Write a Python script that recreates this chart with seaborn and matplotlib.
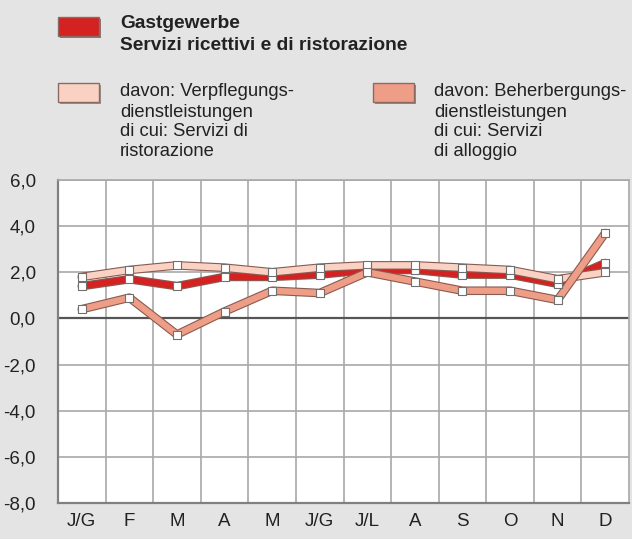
import matplotlib
matplotlib.use("Agg")
import matplotlib.pyplot as plt
import matplotlib.patheffects as pe
from matplotlib.patches import Rectangle
from matplotlib.ticker import FixedLocator
import seaborn as sns
import numpy as np

# data
months = ["J/G", "F", "M", "A", "M", "J/G", "J/L", "A", "S", "O", "N", "D"]
gastgewerbe = [1.4, 1.7, 1.4, 1.8, 1.8, 1.9, 2.1, 2.1, 1.9, 1.9, 1.5, 2.4]
verpflegung = [1.8, 2.1, 2.3, 2.2, 2.0, 2.2, 2.3, 2.3, 2.2, 2.1, 1.7, 2.0]
beherbergung = [0.4, 0.9, -0.7, 0.3, 1.2, 1.1, 2.0, 1.6, 1.2, 1.2, 0.8, 3.7]
yticks = [-8, -6, -4, -2, 0, 2, 4, 6]

col_red = "#d42222"
col_light = "#f9d2c4"
col_salmon = "#ee9d86"
bg = "#e4e4e4"
txt = "#222222"

sns.set_theme(style="white")
plt.rcParams["font.family"] = ["Liberation Sans", "DejaVu Sans"]

W, H = 632, 539
fig = plt.figure(figsize=(W / 100, H / 100), dpi=100, facecolor=bg)
ax = fig.add_axes([58 / W, 1 - 503 / H, (629 - 58) / W, (503 - 180) / H])
ax.set_facecolor("white")

x = np.arange(len(months))
series = [(gastgewerbe, col_red), (verpflegung, col_light), (beherbergung, col_salmon)]
for vals, c in series:
    sns.lineplot(x=x, y=vals, ax=ax, color=c, lw=4.6, sort=False, zorder=3,
                 path_effects=[pe.Stroke(linewidth=6.2, foreground="#8a5a50"), pe.Normal()])
for vals, c in series:
    sns.scatterplot(x=x, y=vals, ax=ax, marker="s", s=34, color="white",
                    edgecolor="#707070", linewidth=0.8, zorder=4)

ax.set_xlim(-0.5, len(months) - 0.5)
ax.set_ylim(-8, 6)
ax.set_xticks(x)
ax.set_xticklabels(months)
ax.set_yticks(yticks)
ax.set_yticklabels([f"{v:.1f}".replace(".", ",") for v in yticks])
ax.xaxis.set_minor_locator(FixedLocator(np.arange(0.5, len(months) - 0.5, 1)))
ax.grid(True, which="minor", axis="x", color="#a8a8a8", lw=1.2)
ax.grid(True, which="major", axis="y", color="#a8a8a8", lw=1.2)
ax.grid(False, which="major", axis="x")
ax.axhline(0, color="#555555", lw=1.6, zorder=2)
ax.set_axisbelow(True)
ax.tick_params(axis="both", which="both", length=0, labelsize=13.5, colors=txt)
ax.tick_params(axis="x", pad=7)
ax.tick_params(axis="y", pad=16)
for s in ["left", "bottom"]:
    ax.spines[s].set_color("#808080")
    ax.spines[s].set_linewidth(1.6)
for s in ["top", "right"]:
    ax.spines[s].set_color("#a8a8a8")
    ax.spines[s].set_linewidth(1.2)

# legend drawn by hand like the original
def swatch(x0, y0, color):
    r = Rectangle((x0 / W, 1 - (y0 + 19) / H), 41 / W, 19 / H, transform=fig.transFigure,
                  facecolor=color, edgecolor="#8a6a62", lw=1.0,
                  path_effects=[pe.SimplePatchShadow(offset=(1.5, -1.5), alpha=0.5), pe.Normal()])
    fig.patches.append(r)

swatch(58, 17, col_red)
fig.text(120 / W, 1 - 24 / H, "Gastgewerbe", fontsize=13.8, fontweight="bold", color=txt, va="center")
fig.text(120 / W, 1 - 46 / H, "Servizi ricettivi e di ristorazione", fontsize=13.8,
         fontweight="bold", color=txt, va="center")

swatch(58, 83, col_light)
swatch(373, 83, col_salmon)
left_lines = ["davon: Verpflegungs-", "dienstleistungen", "di cui: Servizi di", "ristorazione"]
right_lines = ["davon: Beherbergungs-", "dienstleistungen", "di cui: Servizi", "di alloggio"]
for i, (a, b) in enumerate(zip(left_lines, right_lines)):
    yy = 1 - (92 + i * 20) / H
    fig.text(120 / W, yy, a, fontsize=13.2, color=txt, va="center")
    fig.text(434 / W, yy, b, fontsize=13.2, color=txt, va="center")

fig.savefig("out.png", dpi=100, facecolor=bg)
